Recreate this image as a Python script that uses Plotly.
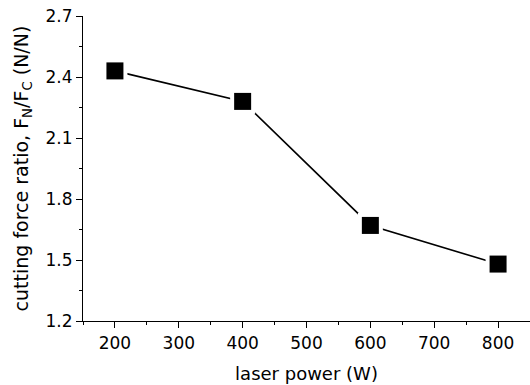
import plotly.graph_objects as go

# Laser power (W) and measured normal/cutting force ratio
laser_power = [200, 400, 600, 800]
force_ratio = [2.43, 2.28, 1.67, 1.48]

x_ticks = [200, 300, 400, 500, 600, 700, 800]
y_ticks = [1.2, 1.5, 1.8, 2.1, 2.4, 2.7]

FONT = "DejaVu Sans, Arial, sans-serif"

fig = go.Figure()

# connecting line
fig.add_trace(go.Scatter(
    x=laser_power, y=force_ratio, mode="lines",
    line=dict(color="black", width=1.6), hoverinfo="skip", showlegend=False,
))
# white halo so the line stops short of each marker
fig.add_trace(go.Scatter(
    x=laser_power, y=force_ratio, mode="markers",
    marker=dict(symbol="square", size=25, color="white", line=dict(width=0)),
    hoverinfo="skip", showlegend=False,
))
# filled square markers
fig.add_trace(go.Scatter(
    x=laser_power, y=force_ratio, mode="markers",
    marker=dict(symbol="square", size=17, color="black", line=dict(width=0)),
    showlegend=False,
))

axis_common = dict(
    showgrid=False, zeroline=False, showline=True, linecolor="black", linewidth=1.2,
    ticks="outside", ticklen=6, tickwidth=1.2, tickcolor="black",
    tickfont=dict(family=FONT, size=17, color="black"),
    mirror=False,
)

fig.update_xaxes(
    range=[150, 850], tickvals=x_ticks, ticktext=[str(v) for v in x_ticks],
    minor=dict(ticks="outside", ticklen=3, tickwidth=1, tickcolor="black", dtick=50, tick0=150),
    title=dict(text="laser power (W)", font=dict(family=FONT, size=18, color="black"), standoff=15),
    **axis_common,
)
fig.update_yaxes(
    range=[1.2, 2.7], tickvals=y_ticks, ticktext=[f"{v:.1f}" for v in y_ticks],
    minor=dict(ticks="outside", ticklen=3, tickwidth=1, tickcolor="black", dtick=0.15, tick0=1.2),
    title=dict(text="cutting force ratio, F<sub>N</sub>/F<sub>C</sub> (N/N)",
               font=dict(family=FONT, size=19, color="black"), standoff=11),
    **axis_common,
)

fig.update_layout(
    width=530, height=385,
    margin=dict(l=83, r=0, t=16, b=64),
    paper_bgcolor="white", plot_bgcolor="white",
)

fig.write_html("out.html")
